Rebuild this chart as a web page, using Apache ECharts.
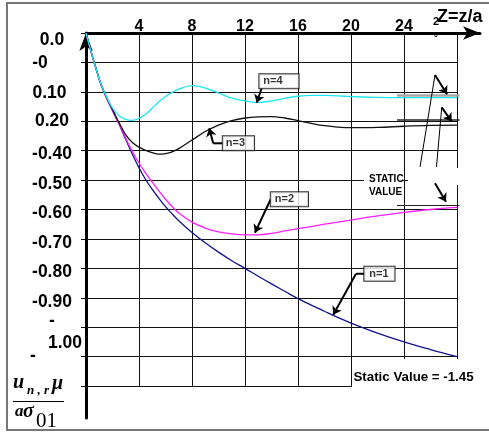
<!DOCTYPE html>
<html>
<head>
<meta charset="utf-8">
<script src="https://cdn.jsdelivr.net/npm/echarts@6/dist/echarts.min.js"></script>
<style>
  html, body { margin: 0; padding: 0; background: #fff; }
  #c { width: 489px; height: 433px; }
</style>
</head>
<body>
<div id="c"></div>
<script>
// Z = z/a positions shared by all four curves
const zValues = [0, 0.25, 0.5, 0.75, 1, 1.25, 1.5, 1.75, 2, 2.25, 2.5, 3, 3.5, 4, 4.5, 5, 5.5, 6, 6.5, 7,
  8, 9, 10, 11, 12, 13, 14, 15, 16, 17, 18, 19, 20, 22, 24, 26, 28];

// normalised displacement u(n,r)·mu / (a·sigma01) for each harmonic n
const uN1 = [0, -0.042, -0.082, -0.12, -0.157, -0.188, -0.215, -0.24, -0.263, -0.287, -0.31, -0.362, -0.412, -0.458,
  -0.498, -0.532, -0.562, -0.59, -0.615, -0.638, -0.678, -0.713, -0.745, -0.774, -0.8, -0.827, -0.853, -0.878,
  -0.903, -0.925, -0.946, -0.967, -0.986, -1.02, -1.05, -1.076, -1.1];
const uN2 = [0, -0.042, -0.082, -0.12, -0.157, -0.188, -0.215, -0.24, -0.263, -0.287, -0.31, -0.358, -0.403, -0.442,
  -0.476, -0.507, -0.537, -0.565, -0.59, -0.612, -0.643, -0.663, -0.676, -0.683, -0.686, -0.686, -0.681, -0.673,
  -0.665, -0.658, -0.65, -0.643, -0.636, -0.622, -0.61, -0.6, -0.593];
const uN3 = [0, -0.042, -0.082, -0.12, -0.157, -0.188, -0.214, -0.238, -0.26, -0.283, -0.305, -0.346, -0.372, -0.388,
  -0.399, -0.407, -0.412, -0.41, -0.404, -0.393, -0.364, -0.335, -0.313, -0.298, -0.289, -0.285, -0.284, -0.289,
  -0.298, -0.307, -0.315, -0.32, -0.322, -0.321, -0.317, -0.314, -0.313];
const uN4 = [0, -0.042, -0.082, -0.12, -0.157, -0.187, -0.212, -0.236, -0.255, -0.27, -0.281, -0.294, -0.297, -0.29,
  -0.276, -0.255, -0.234, -0.216, -0.202, -0.191, -0.179, -0.187, -0.204, -0.221, -0.231, -0.236, -0.231, -0.222,
  -0.215, -0.212, -0.212, -0.214, -0.216, -0.219, -0.22, -0.22, -0.22];

// static (long-distance) levels marked at the right edge
const staticLevels = [-0.2125, -0.296, -0.585];

// axis tick labels
const xTickLabels = ['', '4', '8', '12', '16', '20', '24', '28'];
const yTickLabels = ['0.0', '-0', '0.10', '0.20', '-0.40', '-0.50', '-0.60', '-0.70', '-0.80', '-0.90', '-\n1.00', '-', ''];
const xTitle = 'Z=z/a';

// curve callouts: name, box anchor and the arrow path (data units)
const calloutNames = ['n=4', 'n=3', 'n=2', 'n=1'];
const calloutAnchors = [[13.08, -0.1638], [10.32, -0.375], [13.94, -0.565], [21.0, -0.8185]];
const calloutPaths = [
  [[13.26, -0.187], [12.88, -0.237]],
  [[10.32, -0.375], [9.6, -0.375], [9.3, -0.324]],
  [[13.94, -0.565], [12.75, -0.679]],
  [[21.0, -0.8185], [20.38, -0.8185], [18.66, -0.958]]
];
// pointers from the STATIC VALUE note to the static levels
const staticPointers = [
  [[25.21, -0.4555], [26.34, -0.1427], [27.25, -0.2085]],
  [[26.45, -0.4555], [26.85, -0.2526], [27.6, -0.3008]],
  [[26.34, -0.511], [27.17, -0.5734]]
];

const FONT = '"Liberation Sans", Arial, sans-serif';
const SERIF = '"Liberation Serif", "Times New Roman", serif';

const chart = echarts.init(document.getElementById('c'), null, { renderer: 'canvas' });

const pairs = (vals) => vals.map((v, i) => [zValues[i], v]);

function curve(name, vals, color) {
  return {
    type: 'line', name, data: pairs(vals), smooth: 0.35, symbol: 'none',
    lineStyle: { color, width: 1.3 }, z: 3, silent: true
  };
}

// leader segments (everything before the arrow head) and heads
const leaderData = [];
const headData = [];
calloutPaths.forEach(p => {
  if (p.length > 2) leaderData.push({ coords: p.slice(0, -1), lineStyle: { width: 2 } });
  headData.push({ coords: p.slice(-2) });
});
staticPointers.forEach(p => {
  if (p.length > 2) leaderData.push({ coords: p.slice(0, -1), lineStyle: { width: 1 } });
  headData.push({ coords: p.slice(-2) });
});

const staticColors = ['#a8a8a8', '#222', '#222'];
const staticWidths = [2.5, 1.5, 1.2];
const calloutPadding = [[2, 16, 1, 4], [2, 9, 1, 3], [2, 14, 1, 4], [2, 6, 1, 5]];

const yRich = {
  r0: { padding: [14, 0, 0, 0] },
  r1: { padding: [2, 24, 0, 0] },
  r2: { padding: [2, 5, 0, 0] },
  r3: { padding: [0, 0, 0, 0] },
  v: { padding: [8, 0, 0, 0] },
  d: { padding: [12, 0, 0, 0], lineHeight: 23 },
  w: { padding: [9, 0, 0, 26], lineHeight: 23 },
  e: { padding: [0, 38, 0, 0] }
};
Object.values(yRich).forEach(s => Object.assign(s, { fontFamily: FONT, fontWeight: 'bold', fontSize: 17.5, color: '#000' }));

function yLabel(v) {
  const i = Math.round(-v * 10);
  const s = yTickLabels[i] || '';
  if (!s) return '';
  if (i === 0) return '{r0|' + s + '}';
  if (i === 1) return '{r1|' + s + '}';
  if (i === 2) return '{r2|' + s + '}';
  if (i === 3) return '{r3|' + s + '}';
  if (i === 10) { const parts = s.split('\n'); return '{d|' + parts[0] + '}\n{w|' + parts[1] + '}'; }
  if (i === 11) return '{e|' + s + '}';
  return '{v|' + s + '}';
}

function xLabel(v) {
  const i = Math.round(v / 4);
  const s = xTickLabels[i] || '';
  if (i === xTickLabels.length - 1) return '{s|' + s.charAt(0) + '}';
  return s;
}

const option = {
  animation: false,
  backgroundColor: '#fff',
  grid: [
    { left: 86, top: 33, width: 371, height: 353 },
    { left: 86, top: 33, width: 394, height: 385 }
  ],
  xAxis: [
    {
      gridIndex: 0, type: 'value', position: 'top', min: 0, max: 28, interval: 4,
      axisLine: { show: false }, axisTick: { show: false },
      splitLine: { show: true, lineStyle: { color: '#111', width: 1 } },
      axisLabel: {
        show: true, margin: -2, color: '#000', fontFamily: FONT, fontWeight: 'bold', fontSize: 16,
        showMinLabel: true, showMaxLabel: true, formatter: xLabel,
        rich: { s: { fontFamily: FONT, fontWeight: 'bold', fontSize: 11, color: '#000', padding: [0, 42, 8, 0] } }
      }
    },
    {
      gridIndex: 1, type: 'value', position: 'top', min: 0, max: 1,
      axisLine: { show: true, onZero: false, symbol: ['none', 'arrow'], symbolSize: [10, 17], lineStyle: { color: '#000', width: 3 } },
      axisTick: { show: false }, axisLabel: { show: false }, splitLine: { show: false }
    }
  ],
  yAxis: [
    {
      gridIndex: 0, type: 'value', min: -1.2, max: 0, interval: 0.1,
      axisLine: { show: false },
      axisTick: { show: true, length: 5, lineStyle: { color: '#000', width: 1 } },
      splitLine: { show: true, lineStyle: { color: '#111', width: 1 } },
      axisLabel: {
        show: true, margin: 34, align: 'center', verticalAlign: 'middle', color: '#000',
        fontFamily: FONT, fontWeight: 'bold', fontSize: 17.5,
        showMinLabel: true, showMaxLabel: true, formatter: yLabel, rich: yRich
      }
    },
    {
      gridIndex: 1, type: 'value', inverse: true, min: 0, max: 1,
      axisLine: { show: true, onZero: false, symbol: ['none', 'arrow'], symbolSize: [10, 18], lineStyle: { color: '#000', width: 3 } },
      axisTick: { show: false }, axisLabel: { show: false }, splitLine: { show: false }
    }
  ],
  series: [
    curve('n=1', uN1, '#12128c'),
    curve('n=2', uN2, '#ff1eff'),
    curve('n=3', uN3, '#111111'),
    curve('n=4', uN4, '#1ee6f2'),
    {
      type: 'lines', coordinateSystem: 'cartesian2d', clip: false, silent: true, z: 3,
      data: staticLevels.map((v, i) => ({
        coords: [[23.47, v], [28.2, v]],
        lineStyle: { color: staticColors[i], width: staticWidths[i], opacity: 1 }
      })),
      lineStyle: { type: 'solid', curveness: 0 }
    },
    {
      type: 'lines', coordinateSystem: 'cartesian2d', polyline: true, clip: false, silent: true, z: 4,
      data: leaderData, lineStyle: { color: '#000', width: 2, opacity: 1 }
    },
    {
      type: 'lines', coordinateSystem: 'cartesian2d', clip: false, silent: true, z: 4,
      symbol: ['none', 'arrow'], symbolSize: 8,
      data: headData, lineStyle: { color: '#000', width: 2, opacity: 1, curveness: 0 }
    },
    {
      type: 'scatter', silent: true, z: 6, symbol: 'circle', symbolSize: 0.1,
      itemStyle: { color: 'rgba(0,0,0,0)' },
      data: calloutAnchors.map((p, i) => ({ value: p, name: calloutNames[i], label: { padding: calloutPadding[i] } })),
      label: {
        show: true, position: 'right', distance: 0, formatter: '{b}',
        backgroundColor: '#fff', borderColor: '#000', borderWidth: 1,
        fontFamily: FONT, fontWeight: 'bold', fontSize: 11, lineHeight: 11, color: '#000'
      }
    }
  ],
  graphic: [
    { type: 'rect', z: 0, shape: { x: 7, y: 3, width: 490, height: 427 }, style: { fill: 'none', stroke: '#777', lineWidth: 2 } },
    { type: 'rect', z: 1, shape: { x: 408, y: 168, width: 54, height: 17 }, style: { fill: '#fff' } },
    { type: 'rect', z: 1, shape: { x: 364, y: 176, width: 39, height: 10 }, style: { fill: '#fff' } },
    { type: 'text', z: 10, x: 369, y: 185.5, style: { text: 'STATIC\nVALUE', font: 'bold 10px ' + FONT, fill: '#000', lineHeight: 13, verticalAlign: 'middle', align: 'left' } },
    { type: 'rect', z: 1, shape: { x: 352, y: 359, width: 130, height: 33 }, style: { fill: '#fff' } },
    { type: 'text', z: 10, x: 353.5, y: 377, style: { text: 'Static Value = -1.45', font: 'bold 13.3px ' + FONT, fill: '#000', verticalAlign: 'middle', align: 'left' } },
    { type: 'text', z: 10, x: 436, y: 35, style: { text: xTickLabels[7].charAt(1), font: 'bold 6px ' + FONT, fill: '#000', verticalAlign: 'middle', align: 'center' } },
    { type: 'text', z: 11, x: 437, y: 17.5, style: { text: xTitle, font: 'bold 18px ' + FONT, fill: '#000', verticalAlign: 'middle', align: 'left' } },
    // ordinate title: u(n,r)·mu over a·sigma01
    { type: 'rect', z: 1, shape: { x: 10, y: 368, width: 58, height: 60 }, style: { fill: '#fff' } },
    { type: 'text', z: 10, x: 13, y: 383, style: { text: 'u', font: 'italic bold 20px ' + SERIF, fill: '#000', verticalAlign: 'middle', align: 'left' } },
    { type: 'text', z: 10, x: 27, y: 391, style: { text: 'n , r', font: 'italic bold 13px ' + SERIF, fill: '#000', verticalAlign: 'middle', align: 'left' } },
    { type: 'text', z: 10, x: 52, y: 384, style: { text: 'μ', font: 'italic bold 20px ' + SERIF, fill: '#000', verticalAlign: 'middle', align: 'left' } },
    { type: 'line', z: 10, shape: { x1: 13, y1: 401.5, x2: 64, y2: 401.5 }, style: { stroke: '#000', lineWidth: 1.2 } },
    { type: 'text', z: 10, x: 15, y: 412, style: { text: 'a', font: 'italic bold 17px ' + SERIF, fill: '#000', verticalAlign: 'middle', align: 'left' } },
    { type: 'text', z: 10, x: 23, y: 412, style: { text: 'σ', font: 'italic bold 20px ' + SERIF, fill: '#000', verticalAlign: 'middle', align: 'left' } },
    { type: 'text', z: 10, x: 36, y: 421, style: { text: '01', font: '21px ' + SERIF, fill: '#000', verticalAlign: 'middle', align: 'left' } }
  ]
};

chart.setOption(option);
</script>
</body>
</html>
